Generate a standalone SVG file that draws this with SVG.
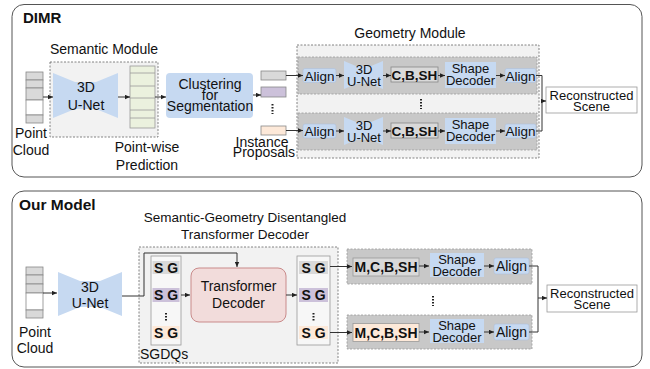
<svg xmlns="http://www.w3.org/2000/svg" width="650" height="369" viewBox="0 0 650 369">
<style>
text{font-family:"Liberation Sans",Arial,sans-serif;fill:#111}
.t14{font-size:14px}
.t13{font-size:13px}
.b{font-weight:bold}
.m{text-anchor:middle}
.panel{fill:#fff;stroke:#555;stroke-width:1}
.mod{fill:#f2f2f2;stroke:#666;stroke-width:0.8;stroke-dasharray:2,1.5}
.row{fill:#c8c8c8;stroke:#999;stroke-width:0.8;stroke-dasharray:2,1.5}
.blue{fill:#c6d9f1}
.bbox{fill:#c6d9f1;stroke:#aebfd8;stroke-width:0.6}
.gc{fill:#d9d9d9}
.pc{fill:#ccc1da}
.oc{fill:#fde9d9}
.cell{stroke:#888;stroke-width:0.8}
.ln{fill:none;stroke:#333;stroke-width:1}
.ar{fill:none;stroke:#333;stroke-width:1;marker-end:url(#ah)}
.dots{stroke:#222;stroke-width:2;stroke-dasharray:1.6,1.4}
</style>
<defs>
<marker id="ah" markerUnits="userSpaceOnUse" markerWidth="5" markerHeight="5" viewBox="0 0 5 5" refX="5" refY="2.5" orient="auto">
<path d="M0,0.3 L5,2.5 L0,4.7 z" fill="#222"/>
</marker>
</defs>

<!-- Top panel -->
<g id="panel-dimr">
<rect class="panel" x="12" y="4.5" width="630" height="172.5" rx="12"/>
<text class="b" x="23" y="23" style="font-size:15px">DIMR</text>
</g>

<g id="pc-top">
<rect class="gc cell" x="26" y="72" width="17" height="8"/>
<rect class="gc cell" x="26" y="80" width="17" height="8"/>
<rect class="gc cell" x="26" y="88" width="17" height="12"/>
<rect x="26" y="100" width="17" height="15" fill="#fff" stroke="#888" stroke-width="0.8"/>
<rect class="gc cell" x="26" y="115" width="17" height="8"/>
<text class="t14 m" x="31" y="138">Point</text>
<text class="t14 m" x="31" y="155">Cloud</text>
</g>

<g id="semantic-module">
<rect class="mod" x="50" y="62" width="108" height="75"/>
<text class="t14 m" x="104" y="54">Semantic Module</text>
</g>

<g id="unet-top">
<polygon class="blue" points="53,73 75,82 96,82 118,73 118,118 96,109 75,109 53,118"/>
<text class="t14 m" x="86" y="92">3D</text>
<text class="t14 m" x="86" y="110">U-Net</text>
</g>

<g id="pointwise">
<rect x="130" y="66" width="25" height="62" fill="#ebf1de" stroke="#999" stroke-width="0.8"/>
<path d="M130,73H155M130,86H155M130,98H155M130,110H155M130,118H155" stroke="#999" stroke-width="0.8"/>
<text class="t14 m" x="147" y="152">Point-wise</text>
<text class="t14 m" x="147" y="170">Prediction</text>
</g>

<g id="clustering">
<rect class="blue" x="166" y="73" width="87" height="45" rx="4"/>
<text class="t14 m" x="210" y="89">Clustering</text>
<text class="t14 m" x="210" y="100">for</text>
<text class="t14 m" x="210" y="111">Segmentation</text>
</g>

<g id="proposals">
<rect class="gc cell" x="261" y="71" width="25" height="9"/>
<rect class="pc cell" x="261" y="87" width="25" height="10"/>
<line class="dots" x1="272.5" y1="104" x2="272.5" y2="114"/>
<rect class="oc cell" x="261" y="126" width="25" height="9"/>
<text class="t14 m" x="262" y="147">Instance</text>
<text class="t14 m" x="264" y="157">Proposals</text>
</g>

<g id="geometry-module">
<rect class="mod" x="297" y="45" width="242" height="113"/>
<text class="t14 m" x="410" y="38">Geometry Module</text>
<line class="dots" x1="421" y1="99" x2="421" y2="109"/>
</g>

<g id="geo-row1">
<rect class="row" x="298" y="57" width="239" height="37"/>
<rect class="bbox" x="303" y="68.5" width="33" height="14" rx="2"/>
<text class="m" x="319.5" y="80.5" style="font-size:13.5px">Align</text>
<polygon class="blue" points="344,61 356,66 371,66 383,61 383,89 371,84 356,84 344,89"/>
<text class="t13 m" x="364" y="74">3D</text>
<text class="t13 m" x="364" y="86">U-Net</text>
<rect x="391" y="67" width="47" height="15" fill="#d9d9d9" stroke="#888" stroke-width="0.8"/>
<text class="b m" x="414.5" y="79.5" style="font-size:13.5px">C,B,SH</text>
<rect class="blue" x="445" y="62" width="51" height="26"/>
<text class="t13 m" x="470.5" y="73">Shape</text>
<text class="t13 m" x="470.5" y="85">Decoder</text>
<rect class="bbox" x="505" y="68.5" width="31" height="14" rx="2"/>
<text class="m" x="520.5" y="80.5" style="font-size:13.5px">Align</text>
</g>

<g id="geo-row2">
<rect class="row" x="298" y="113" width="239" height="37"/>
<rect class="bbox" x="303" y="124" width="33" height="14" rx="2"/>
<text class="m" x="319.5" y="136" style="font-size:13.5px">Align</text>
<polygon class="blue" points="344,117 356,122 371,122 383,117 383,145 371,140 356,140 344,145"/>
<text class="t13 m" x="364" y="130">3D</text>
<text class="t13 m" x="364" y="142">U-Net</text>
<rect x="391" y="123" width="47" height="15" fill="#d9d9d9" stroke="#888" stroke-width="0.8"/>
<text class="b m" x="414.5" y="135.5" style="font-size:13.5px">C,B,SH</text>
<rect class="blue" x="445" y="118" width="51" height="26"/>
<text class="t13 m" x="470.5" y="129">Shape</text>
<text class="t13 m" x="470.5" y="141">Decoder</text>
<rect class="bbox" x="505" y="124" width="31" height="14" rx="2"/>
<text class="m" x="520.5" y="136" style="font-size:13.5px">Align</text>
</g>

<g id="scene-top">
<rect x="546" y="87" width="91" height="26" fill="#fff" stroke="#999" stroke-width="0.8"/>
<text class="m" x="591.5" y="99.5" style="font-size:13px">Reconstructed</text>
<text class="m" x="591.5" y="111" style="font-size:13px">Scene</text>
</g>

<!-- Bottom panel -->
<g id="panel-ours">
<rect class="panel" x="12" y="191" width="630" height="176" rx="12"/>
<text class="b" x="19" y="210" style="font-size:15.5px">Our Model</text>
</g>

<g id="pc-bottom">
<rect class="gc cell" x="26" y="267" width="17" height="8"/>
<rect class="gc cell" x="26" y="275" width="17" height="9"/>
<rect class="gc cell" x="26" y="284" width="17" height="9"/>
<rect x="26" y="293" width="17" height="17" fill="#fff" stroke="#888" stroke-width="0.8"/>
<rect class="gc cell" x="26" y="310" width="17" height="8"/>
<text class="t14 m" x="35" y="337">Point</text>
<text class="t14 m" x="35" y="353">Cloud</text>
</g>

<g id="unet-bottom">
<polygon class="blue" points="58,272 80,281 100,281 122,272 122,316 100,307 80,307 58,316"/>
<text class="t14 m" x="90" y="292">3D</text>
<text class="t14 m" x="90" y="308">U-Net</text>
</g>

<g id="sgdt">
<rect class="mod" x="139" y="247" width="199" height="116"/>
<text class="m" x="245" y="222" style="font-size:13.5px">Semantic-Geometry Disentangled</text>
<text class="m" x="245" y="239" style="font-size:13.5px">Transformer Decoder</text>
<text class="t14" x="140" y="359">SGDQs</text>
</g>

<g id="sgdq-in">
<rect x="151" y="256" width="30" height="89" fill="#f7f7f7" stroke="#999" stroke-width="0.8"/>
<rect class="gc" x="152.5" y="261" width="27" height="13"/>
<rect class="pc" x="152.5" y="288" width="27" height="14"/>
<rect class="oc" x="152.5" y="326" width="27" height="13"/>
<text class="t14 b m" x="166" y="272.5">S G</text>
<text class="t14 b m" x="166" y="300">S G</text>
<line class="dots" x1="166" y1="313" x2="166" y2="321"/>
<text class="t14 b m" x="166" y="337.5">S G</text>
</g>

<g id="transformer-decoder">
<rect x="191" y="268" width="95" height="54" rx="8" fill="#f2dcdb" stroke="#c98a8a" stroke-width="1"/>
<text class="t14 m" x="238.5" y="291">Transformer</text>
<text class="t14 m" x="238.5" y="308">Decoder</text>
</g>

<g id="sgdq-out">
<rect x="297" y="256" width="33" height="89" fill="#f7f7f7" stroke="#999" stroke-width="0.8"/>
<rect class="gc" x="299" y="261" width="29" height="13"/>
<rect class="pc" x="299" y="288" width="29" height="14"/>
<rect class="oc" x="299" y="326" width="29" height="13"/>
<text class="t14 b m" x="313.5" y="272.5">S G</text>
<text class="t14 b m" x="313.5" y="300">S G</text>
<line class="dots" x1="313.5" y1="313" x2="313.5" y2="321"/>
<text class="t14 b m" x="313.5" y="337.5">S G</text>
</g>

<g id="our-row1">
<rect class="row" x="347" y="249" width="185" height="35"/>
<rect x="353" y="258" width="66" height="18" fill="#d9d9d9" stroke="#999" stroke-width="0.8"/>
<text class="t14 b m" x="386" y="272">M,C,B,SH</text>
<rect class="blue" x="430" y="253" width="54" height="24"/>
<text class="t13 m" x="457" y="264">Shape</text>
<text class="t13 m" x="457" y="276">Decoder</text>
<rect class="bbox" x="494" y="258" width="35" height="16" rx="2"/>
<text class="t14 m" x="511.5" y="271">Align</text>
</g>

<line class="dots" x1="433" y1="296" x2="433" y2="306"/>

<g id="our-row2">
<rect class="row" x="347" y="315" width="185" height="34"/>
<rect x="353" y="323.5" width="66" height="18" fill="#fde9d9" stroke="#999" stroke-width="0.8"/>
<text class="t14 b m" x="386" y="337.5">M,C,B,SH</text>
<rect class="blue" x="430" y="319" width="54" height="24"/>
<text class="t13 m" x="457" y="330">Shape</text>
<text class="t13 m" x="457" y="342">Decoder</text>
<rect class="bbox" x="494" y="324" width="35" height="16" rx="2"/>
<text class="t14 m" x="511.5" y="337">Align</text>
</g>

<g id="scene-bottom">
<rect x="547" y="285" width="90" height="27" fill="#fff" stroke="#999" stroke-width="0.8"/>
<text class="m" x="592" y="297.5" style="font-size:13px">Reconstructed</text>
<text class="m" x="592" y="309" style="font-size:13px">Scene</text>
</g>

<g id="connectors">
<line class="ar" x1="43" y1="97" x2="53" y2="97"/>
<line class="ar" x1="118" y1="97" x2="130" y2="97"/>
<line class="ar" x1="155" y1="97" x2="166" y2="97"/>
<line class="ar" x1="253" y1="95" x2="261" y2="95"/>
<line class="ar" x1="286" y1="75.5" x2="303" y2="75.5"/>
<line class="ar" x1="286" y1="130.5" x2="303" y2="130.5"/>
<line class="ar" x1="336" y1="75.5" x2="344" y2="75.5"/>
<line class="ar" x1="383" y1="75.5" x2="391" y2="75.5"/>
<line class="ar" x1="438" y1="75.5" x2="445" y2="75.5"/>
<line class="ar" x1="496" y1="75.5" x2="505" y2="75.5"/>
<line class="ar" x1="336" y1="131" x2="344" y2="131"/>
<line class="ar" x1="383" y1="131" x2="391" y2="131"/>
<line class="ar" x1="438" y1="131" x2="445" y2="131"/>
<line class="ar" x1="496" y1="131" x2="505" y2="131"/>
<path class="ln" d="M536,75.5H542V131H536"/>
<line class="ar" x1="542" y1="101" x2="546" y2="101"/>

<line class="ar" x1="43" y1="293" x2="57" y2="293"/>
<path class="ar" d="M122,296H144V253H237V267"/>
<line class="ar" x1="181" y1="295" x2="190" y2="295"/>
<line class="ar" x1="286" y1="295" x2="297" y2="295"/>
<line class="ar" x1="330" y1="266.5" x2="352" y2="266.5"/>
<line class="ar" x1="330" y1="332.5" x2="352" y2="332.5"/>
<line class="ar" x1="419" y1="266" x2="429" y2="266"/>
<line class="ar" x1="484" y1="266" x2="494" y2="266"/>
<line class="ar" x1="419" y1="332" x2="429" y2="332"/>
<line class="ar" x1="484" y1="332" x2="494" y2="332"/>
<path class="ln" d="M529,266H538V332H529"/>
<line class="ar" x1="538" y1="298" x2="547" y2="298"/>
</g>
</svg>
